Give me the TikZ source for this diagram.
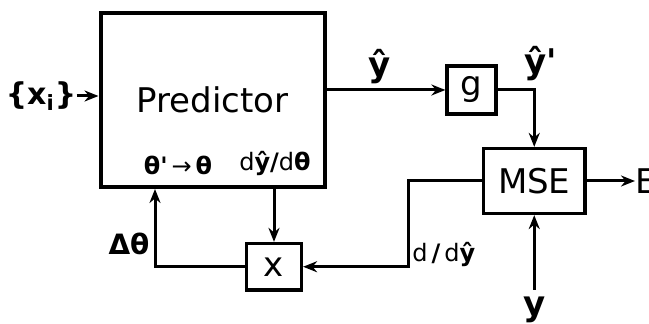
\documentclass[tikz,border=0pt]{standalone}
\usepackage{amsmath,amssymb}
\usepackage{fontspec}
\setmainfont{DejaVu Sans}
\newfontfamily\plainsans{DejaVu Sans}
\usepackage{tikz}
\usetikzlibrary{arrows.meta,positioning,calc}

\begin{document}
\begin{tikzpicture}[x=0.5pt,y=-0.5pt,
    blk/.style={draw,line width=1.6pt,inner sep=0pt},
    wire/.style={line width=1.5pt},
    arr/.style={wire,-{Stealth[length=7pt,width=5.5pt]}},
    big/.style={font=\fontsize{17}{20}\selectfont,inner sep=0pt},
    lbl/.style={font=\fontsize{17}{20}\selectfont\plainsans\bfseries,inner sep=0pt},
    small/.style={font=\fontsize{12}{14}\selectfont\plainsans,inner sep=0pt}]
    \useasboundingbox (0,0) rectangle (649,324);
    % blocks
    \node[blk,line width=2pt,minimum width=112pt,minimum height=87pt,big] (pred) at (212.5,100) {Predictor};
    \node[blk,minimum width=24.5pt,minimum height=24pt,big] (g) at (471.5,90) {g};
    \node[blk,minimum width=50.75pt,minimum height=32.5pt,big] (mse) at (534.25,181) {MSE};
    \node[blk,minimum width=27.5pt,minimum height=23.25pt,big] (x) at (274,266.75) {x};
    % labels
    \node[lbl,font=\fontsize{15}{18}\selectfont\bfseries] (xin) at (41,96) {\{x\textsubscript{i}\}};
    \node[lbl] (yhat) at (380,67) {ŷ};
    \node[lbl] (yhatp) at (541,64) {ŷ'};
    \node[big,anchor=west] (err) at (635,181) {E};
    \node[lbl,anchor=north] (ytrue) at (534.25,297) {y};
    \node[lbl,font=\fontsize{14}{16}\selectfont\bfseries] (dtheta) at (129,244) {Δθ};
    \node[small] (upd) at (178,165) {\textbf{θ'}\,→\,\textbf{θ}};
    \node[small] (dydth) at (275,164) {d\textbf{ŷ/}d\textbf{θ}};
    \node[small,anchor=west] (ddy) at (412,255) {d\,\textbf{/}\,d\textbf{ŷ}};
    \coordinate (fbr) at (408,0);
    \coordinate (fbl) at (155,0);
    % connectors
    \draw[arr] (xin.east) -- (pred.west |- xin.east);
    \draw[arr] (pred.east |- g.west) -- (g.west);
    \draw[arr] (g.east) -| (mse.north);
    \draw[arr] (mse.east) -- (err.west);
    \draw[arr,shorten <=3.5pt] (ytrue.north) -- (mse.south);
    \draw[arr] (mse.west) -| (fbr |- x.east) -- (x.east);
    \draw[arr] (pred.south -| x.north) -- (x.north);
    \draw[arr] (x.west) -| (fbl |- pred.south);
\end{tikzpicture}
\end{document}
